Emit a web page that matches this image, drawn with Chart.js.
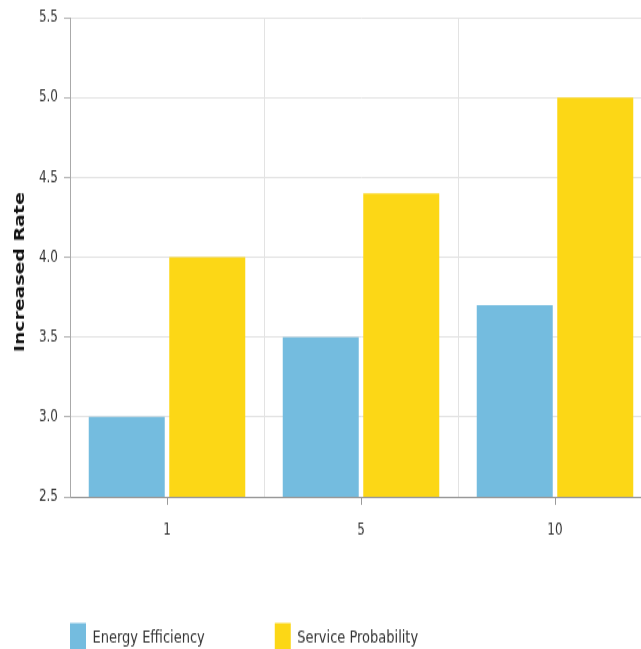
<!DOCTYPE html>
<html>
<head>
<meta charset="utf-8">
<script src="https://cdn.jsdelivr.net/npm/chart.js@4.4.1/dist/chart.umd.min.js"></script>
<style>
  html, body { margin: 0; padding: 0; background: #fff; overflow: hidden; }
  #wrap { width: 641px; height: 649px; overflow: hidden; position: relative; }
  #chart { position: absolute; left: 0; top: 0; transform: scaleY(1.35); transform-origin: 0 0; }
</style>
</head>
<body>
<div id="wrap"><canvas id="chart" width="660" height="505"></canvas></div>
<script>
// Chart data
const categories = ['1', '5', '10'];
const energyEfficiency = [3.0, 3.5, 3.7];
const serviceProbability = [4.0, 4.4, 5.0];
const seriesNames = ['Energy Efficiency', 'Service Probability'];
const yTicks = [2.5, 3.0, 3.5, 4.0, 4.5, 5.0, 5.5];
const yTitle = 'Increased Rate';

const FONT = '"DejaVu Sans", Verdana, sans-serif';

// Small tick marks under each category centre
const xTickMarks = {
  id: 'xTickMarks',
  afterDraw(chart) {
    const xs = chart.scales.x;
    const ctx = chart.ctx;
    ctx.save();
    ctx.strokeStyle = '#9a9a9a';
    ctx.lineWidth = 1;
    xs.ticks.forEach((t, i) => {
      const px = Math.round(xs.getPixelForTick(i)) + 0.5;
      ctx.beginPath();
      ctx.moveTo(px, xs.top);
      ctx.lineTo(px, xs.top + 6);
      ctx.stroke();
    });
    ctx.restore();
  }
};

// Rotated y-axis title, placed a little below the plot's middle
const yAxisTitle = {
  id: 'yAxisTitle',
  afterDraw(chart) {
    const { ctx, chartArea } = chart;
    ctx.save();
    ctx.translate(20, (chartArea.top + chartArea.bottom) / 2 + 11);
    ctx.rotate(-Math.PI / 2);
    ctx.font = 'bold 14px ' + FONT;
    ctx.fillStyle = '#111';
    ctx.textAlign = 'center';
    ctx.textBaseline = 'middle';
    ctx.fillText(yTitle, 0, 0);
    ctx.restore();
  }
};

// Pull the legend row up a little, closer to the axis labels
const legendLift = {
  id: 'legendLift',
  afterLayout(chart) {
    const lg = chart.legend;
    if (!lg) return;
    lg.top -= 11.6;
    lg.bottom -= 11.6;
  }
};

new Chart(document.getElementById('chart'), {
  type: 'bar',
  data: {
    labels: categories,
    datasets: [
      { label: seriesNames[0], data: energyEfficiency, backgroundColor: '#74BCDF', borderWidth: 0 },
      { label: seriesNames[1], data: serviceProbability, backgroundColor: '#FCD716', borderWidth: 0 }
    ]
  },
  options: {
    responsive: false,
    devicePixelRatio: 1,
    animation: false,
    categoryPercentage: 0.83,
    barPercentage: 0.944,
    layout: { padding: { top: 13, right: 8, bottom: 0, left: 0 } },
    plugins: {
      tooltip: { enabled: false },
      legend: {
        position: 'bottom',
        align: 'start',
        labels: {
          boxWidth: 16,
          boxHeight: 22,
          padding: 70,
          color: '#333',
          font: { family: FONT, size: 13 }
        }
      }
    },
    scales: {
      x: {
        z: 1,
        grid: { offset: true, color: '#e3e3e3', drawTicks: false },
        border: { color: '#999', width: 1 },
        ticks: { color: '#333', padding: 18, font: { family: FONT, size: 12 } },
        afterFit(scale) { scale.height = 35; }
      },
      y: {
        min: 2.5,
        max: 5.5,
        afterBuildTicks(scale) { scale.ticks = yTicks.map(v => ({ value: v })); },
        grid: { color: '#e3e3e3', tickColor: '#b5b5b5', tickLength: 6 },
        border: { color: '#aaa', width: 1 },
        ticks: {
          color: '#333',
          padding: 6,
          font: { family: FONT, size: 12 },
          callback: v => Number(v).toFixed(1)
        },
        afterFit(scale) { scale.width = 70; }
      }
    }
  },
  plugins: [xTickMarks, yAxisTitle, legendLift]
});
</script>
</body>
</html>
